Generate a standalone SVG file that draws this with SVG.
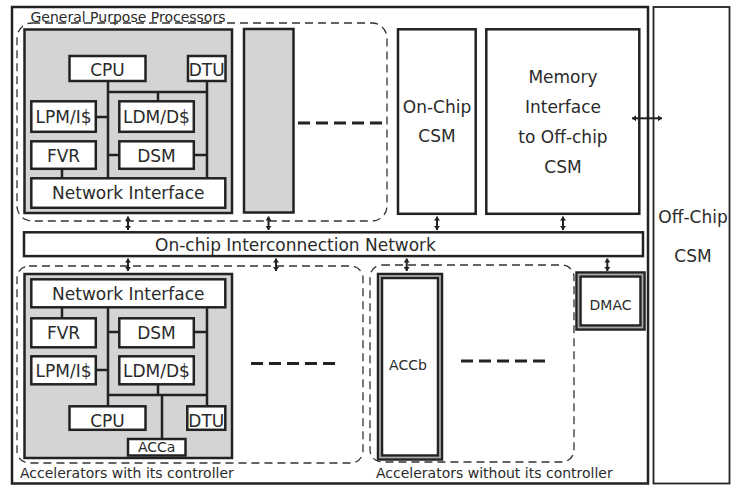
<svg xmlns="http://www.w3.org/2000/svg" width="731" height="485" viewBox="0 0 731 485">
  <defs>
    <style>
      .frame { fill: none; stroke: #222; stroke-width: 2.5; }
      .ext { fill: none; stroke: #222; stroke-width: 1.8; }
      .blk { fill: #d4d4d4; stroke: #222; stroke-width: 2.5; }
      .box { fill: #fff; stroke: #222; stroke-width: 2.5; }
      .dbl { fill: #fff; stroke: #222; stroke-width: 6.5; }
      .dblm { fill: none; stroke: #a8a8a8; stroke-width: 1.8; }
      .grp { fill: none; stroke: #333; stroke-width: 1.3; stroke-dasharray: 8 5; }
      .wire { fill: none; stroke: #222; stroke-width: 2.5; }
      .more { fill: none; stroke: #222; stroke-width: 3; stroke-dasharray: 12 6; }
      .arr { fill: none; stroke: #222; stroke-width: 2; marker-start: url(#ah); marker-end: url(#ah); }
      .t { font-family: "DejaVu Sans", "Noto Sans", sans-serif; font-size: 17px; fill: #2a2a2a; text-anchor: middle; }
      .s { font-size: 14px; }
      .l { text-anchor: start; }
    </style>
    <marker id="ah" viewBox="0 0 4 6" refX="4" refY="3" markerWidth="4" markerHeight="6" markerUnits="userSpaceOnUse" orient="auto-start-reverse">
      <path d="M0,0 L4,3 L0,6 z" fill="#222"/>
    </marker>
  </defs>

  <!-- chip boundary and off-chip memory -->
  <g id="chip">
    <rect class="frame" x="12" y="7" width="636" height="476.5"/>
  </g>
  <g id="offchip-csm">
    <rect class="ext" x="653.5" y="7" width="76" height="476.5"/>
    <text class="t" x="693" y="223">Off-Chip</text>
    <text class="t" x="693" y="262">CSM</text>
  </g>

  <!-- grouping outlines -->
  <g id="gpp-group">
    <rect class="grp" x="17" y="23" width="370" height="198" rx="15"/>
    <text class="t s l" x="30.5" y="21.5">General Purpose Processors</text>
  </g>
  <g id="acc-ctrl-group">
    <rect class="grp" x="17" y="266" width="346" height="197" rx="12"/>
    <text class="t s l" x="20" y="478">Accelerators with its controller</text>
  </g>
  <g id="acc-noctrl-group">
    <rect class="grp" x="370" y="265" width="204" height="197" rx="12"/>
    <text class="t s l" x="376" y="478">Accelerators without its controller</text>
  </g>

  <!-- general purpose processor core -->
  <g id="pe-gp">
    <rect class="blk" x="24.5" y="29.5" width="207.5" height="183.5"/>
    <path class="wire" d="M108,82 V178 M207,82 V178 M108,92 H207 M158,92 V101 M96,117 H108 M108,155 H119 M194,155 H207 M62,169 V178"/>
    <g id="gp-cpu"><rect class="box" x="69.5" y="56" width="76" height="25"/><text class="t" x="107.5" y="76">CPU</text></g>
    <g id="gp-dtu"><rect class="box" x="188" y="56" width="37.5" height="25"/><text class="t" x="206.7" y="76">DTU</text></g>
    <g id="gp-lpm"><rect class="box" x="31.3" y="101.3" width="64.5" height="30.5"/><text class="t" x="63.5" y="123">LPM/I$</text></g>
    <g id="gp-ldm"><rect class="box" x="119.3" y="101.3" width="74.5" height="30.5"/><text class="t" x="156.5" y="123">LDM/D$</text></g>
    <g id="gp-fvr"><rect class="box" x="31.3" y="141.3" width="64.5" height="27.5"/><text class="t" x="63.5" y="162">FVR</text></g>
    <g id="gp-dsm"><rect class="box" x="119.3" y="141.3" width="74.5" height="27.5"/><text class="t" x="156.5" y="162">DSM</text></g>
    <g id="gp-ni"><rect class="box" x="31.3" y="178.3" width="194" height="29.5"/><text class="t" x="128.3" y="199">Network Interface</text></g>
  </g>
  <g id="pe-gp-2">
    <rect class="blk" x="244" y="29" width="49.5" height="183.5"/>
  </g>

  <!-- on-chip shared memory and memory interface -->
  <g id="onchip-csm">
    <rect class="box" x="398" y="29.3" width="77.7" height="184.5"/>
    <text class="t" x="437" y="113">On-Chip</text>
    <text class="t" x="437" y="142">CSM</text>
  </g>
  <g id="mem-if">
    <rect class="box" x="486.3" y="29.3" width="153" height="184.5"/>
    <text class="t" x="563" y="83">Memory</text>
    <text class="t" x="563" y="113">Interface</text>
    <text class="t" x="563" y="143">to Off-chip</text>
    <text class="t" x="563" y="173">CSM</text>
  </g>

  <!-- interconnection network -->
  <g id="network">
    <rect class="box" x="24" y="232.3" width="619" height="23.8"/>
    <text class="t" x="295.5" y="250.5">On-chip Interconnection Network</text>
  </g>

  <!-- accelerator core with controller -->
  <g id="pe-acc">
    <rect class="blk" x="24.5" y="274" width="207.5" height="184"/>
    <path class="wire" d="M108,308 V406 M207,308 V406 M108,395 H207 M158,385 V395 M162,395 V439 M96,370 H108 M108,332 H119 M194,332 H207 M62,308 V318"/>
    <g id="acc-ni"><rect class="box" x="31.3" y="279.3" width="194" height="28"/><text class="t" x="128.3" y="299.5">Network Interface</text></g>
    <g id="acc-fvr"><rect class="box" x="31.3" y="318.3" width="64.5" height="29"/><text class="t" x="63.5" y="339">FVR</text></g>
    <g id="acc-dsm"><rect class="box" x="119.3" y="318.3" width="74.5" height="29"/><text class="t" x="156.5" y="339">DSM</text></g>
    <g id="acc-lpm"><rect class="box" x="31.3" y="356.3" width="64.5" height="28"/><text class="t" x="63.5" y="376.5">LPM/I$</text></g>
    <g id="acc-ldm"><rect class="box" x="119.3" y="356.3" width="74.5" height="28"/><text class="t" x="156.5" y="376.5">LDM/D$</text></g>
    <g id="acc-cpu"><rect class="box" x="69.5" y="406.3" width="76" height="23.5"/><text class="t" x="107.5" y="426.5">CPU</text></g>
    <g id="acc-dtu"><rect class="box" x="187.3" y="406.3" width="38" height="23.5"/><text class="t" x="206.3" y="426.5">DTU</text></g>
    <g id="acc-acca"><rect class="box" x="128" y="439" width="57.5" height="16.5"/><text class="t s" x="156.7" y="452">ACCa</text></g>
  </g>

  <!-- accelerators without controller and DMA controller -->
  <g id="accb">
    <rect class="dbl" x="380" y="276" width="60" height="181.5"/>
    <rect class="dblm" x="380" y="276" width="60" height="181.5"/>
    <text class="t s" x="408" y="370">ACCb</text>
  </g>
  <g id="dmac">
    <rect class="dbl" x="578.5" y="274.5" width="64" height="53"/>
    <rect class="dblm" x="578.5" y="274.5" width="64" height="53"/>
    <text class="t s" x="610.5" y="310">DMAC</text>
  </g>

  <!-- connectors -->
  <g id="connectors">
    <line class="more" x1="298" y1="123" x2="387" y2="123"/>
    <line class="more" x1="251" y1="363.5" x2="340" y2="363.5"/>
    <line class="more" x1="461" y1="361" x2="551" y2="361"/>
    <line class="arr" x1="128" y1="216.5" x2="128" y2="230"/>
    <line class="arr" x1="268.5" y1="216.5" x2="268.5" y2="230"/>
    <line class="arr" x1="437" y1="216.5" x2="437" y2="230"/>
    <line class="arr" x1="563" y1="216.5" x2="563" y2="230"/>
    <line class="arr" x1="128" y1="258.5" x2="128" y2="271"/>
    <line class="arr" x1="276" y1="258.5" x2="276" y2="271"/>
    <line class="arr" x1="406.7" y1="258.5" x2="406.7" y2="271"/>
    <line class="arr" x1="607.3" y1="258.5" x2="607.3" y2="271"/>
    <line class="arr" x1="632" y1="118.3" x2="662" y2="118.3"/>
  </g>
</svg>
